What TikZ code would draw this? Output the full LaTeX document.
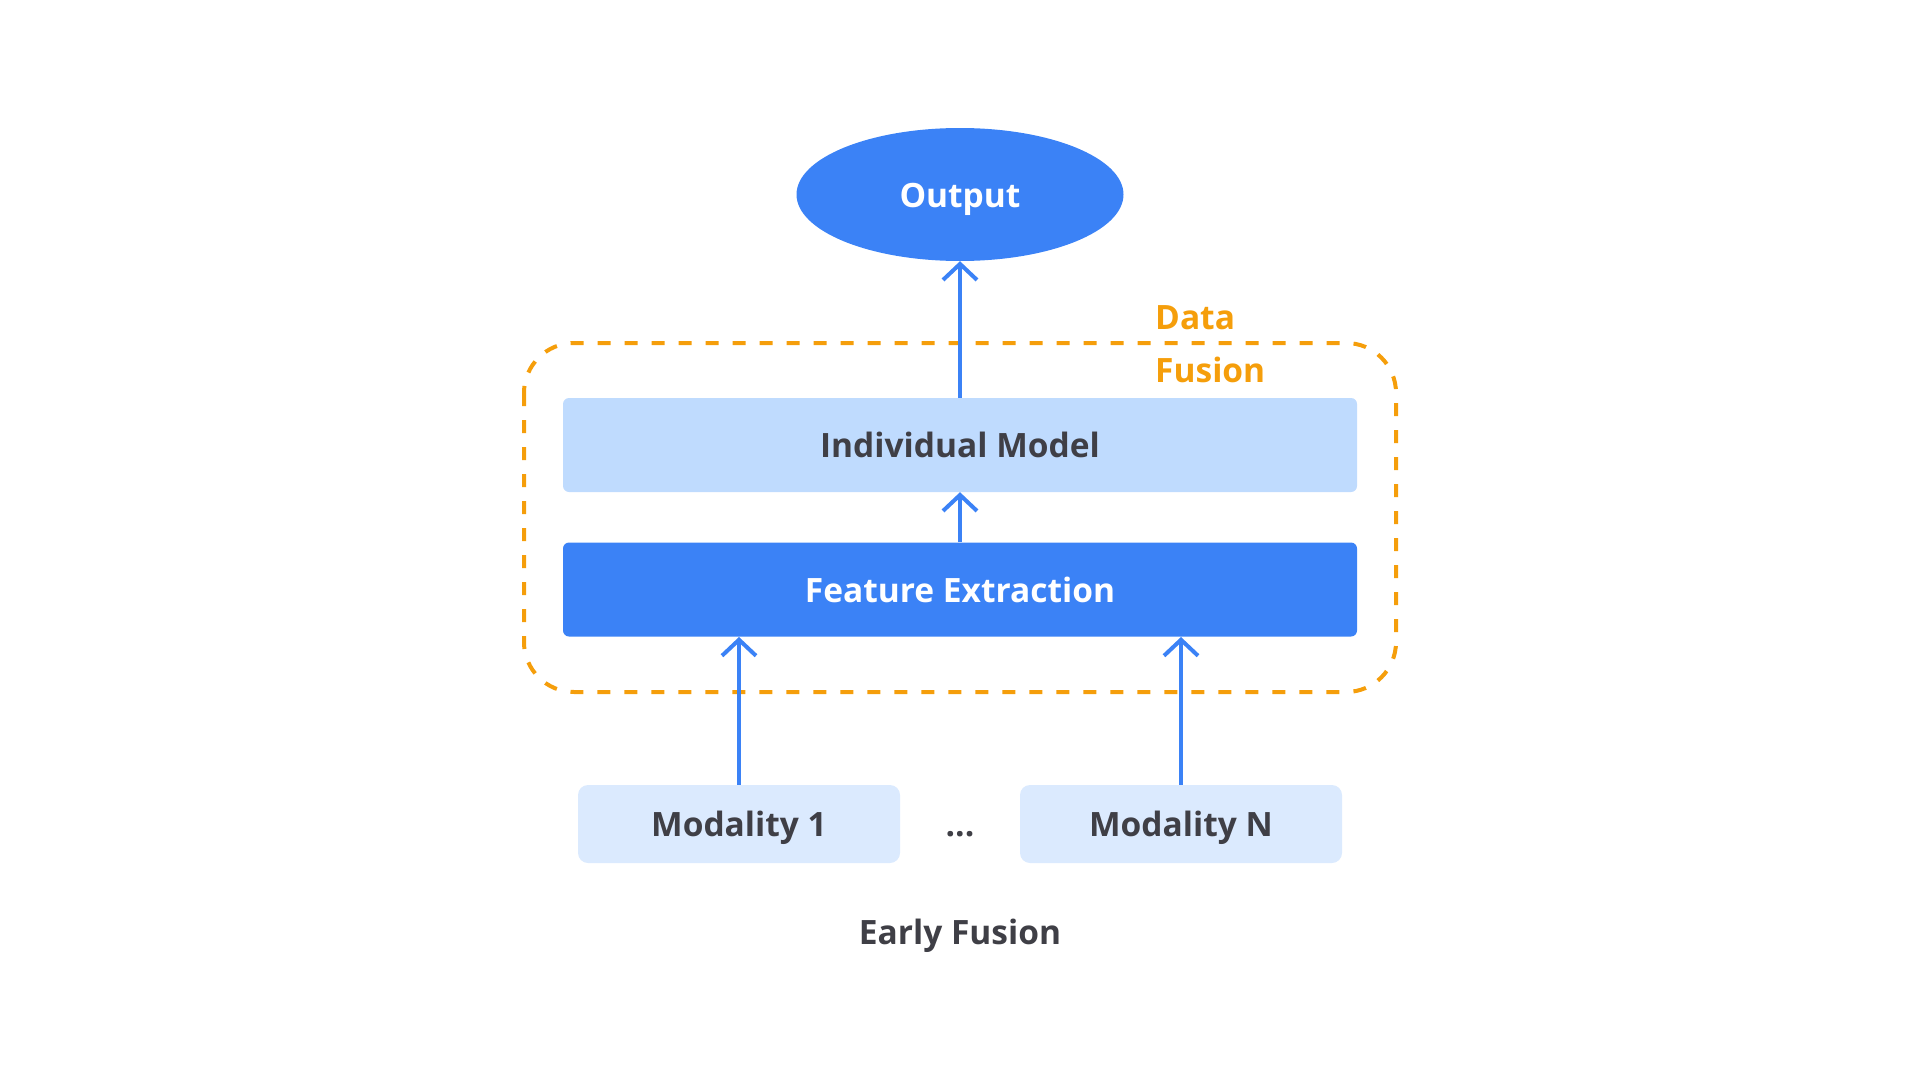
\documentclass[tikz,border=0pt]{standalone}
\usepackage{fontspec}
\setmainfont{Open Sans}
\usetikzlibrary{arrows.meta,shapes.geometric}
\definecolor{bluemain}{HTML}{3B82F6}
\definecolor{bluelight}{HTML}{BFDBFE}
\definecolor{bluepale}{HTML}{DBEAFE}
\definecolor{amber}{HTML}{F59E0B}
\definecolor{darktext}{HTML}{3F3F46}
\tikzset{
  lbl/.style={font=\fontsize{33.5}{40}\selectfont\bfseries, text height=25pt, text depth=0pt},
  bigbox/.style={rounded corners=6pt, minimum width=794pt, minimum height=94pt, inner sep=0pt, lbl},
  modbox/.style={rounded corners=10pt, fill=bluepale, minimum width=322pt, minimum height=78pt, inner sep=0pt, lbl, text=darktext},
  flow/.style={draw=bluemain, line width=4pt, -{Straight Barb[length=16pt,width=34pt,line width=4pt]}},
  fusionbox/.style={draw=amber, line width=4pt, dash pattern=on 13pt off 14pt, rounded corners=50pt}
}
\begin{document}
\begin{tikzpicture}[x=1pt,y=-1pt]
\useasboundingbox (0,0) rectangle (1920,1081);
\draw[fusionbox] (524,343) rectangle (1396,692);
\node[ellipse, fill=bluemain, minimum width=327pt, minimum height=133pt, inner sep=0pt, lbl, text=white] (out) at (960,194.5) {Output};
\node[bigbox, fill=bluelight, text=darktext] (im) at (960,445) {Individual Model};
\node[bigbox, fill=bluemain, text=white] (fe) at (960,589.5) {Feature Extraction};
\node[modbox] (m1) at (739,824) {Modality 1};
\node[modbox] (mn) at (1181,824) {Modality N};
\node[lbl, text=darktext] (dots) at (960,824) {...};
\node[lbl, text=darktext] (title) at (960,932) {Early Fusion};
\node[text=amber, align=left, anchor=north west, font=\fontsize{33.5}{53}\selectfont\bfseries, inner sep=0pt] (df) at (1155,305) {Data\\Fusion};
\coordinate (fe1) at (739,637);
\coordinate (fen) at (1181,637);
\draw[flow] (m1.north) -- (fe1);
\draw[flow] (mn.north) -- (fen);
\draw[flow] (fe.north) -- (im.south);
\draw[flow] (im.north) -- (out.south);
\end{tikzpicture}
\end{document}
